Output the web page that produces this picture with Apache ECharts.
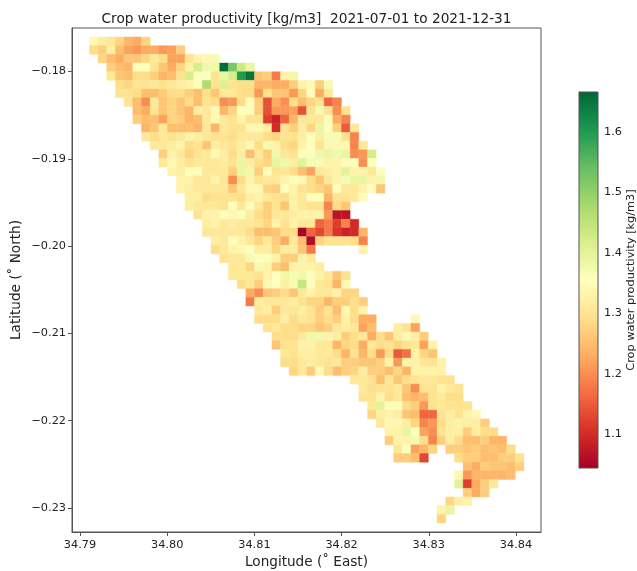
<!DOCTYPE html>
<html><head><meta charset="utf-8">
<style>html,body{margin:0;padding:0;background:#fff}#c{width:637px;height:571px}</style>
<script src="https://cdn.jsdelivr.net/npm/echarts@6/dist/echarts.min.js"></script>
</head><body><div id="c"></div>
<script>
const titleText = 'Crop water productivity [kg/m3]  2021-07-01 to 2021-12-31';
const xName = 'Longitude (˚ East)';
const yName = 'Latitude (˚ North)';
const barName = 'Crop water productivity [kg/m3]';
const xTicks = [34.79, 34.80, 34.81, 34.82, 34.83, 34.84];
const yTicks = [-0.18, -0.19, -0.20, -0.21, -0.22, -0.23];
const barTicks = [1.1, 1.2, 1.3, 1.4, 1.5, 1.6];
const valueRange = [1.044, 1.666];
const palette = ['#a50026','#d73027','#f46d43','#fdae61','#fee08b','#ffffbf','#d9ef8b','#a6d96a','#66bd63','#1a9850','#006837'];
const lonWest = 34.79107, latNorth = -0.17605, lonStep = 0.000997, latStep = 0.000994;
const rowStart = [0,0,1,2,2,3,3,4,5,5,6,6,7,8,8,9,10,10,11,11,12,13,13,14,14,15,16,16,17,18,18,19,19,20,21,21,22,22,23,30,31,31,32,32,33,34,34,35,35,43,42,42,43,41,40,40];
const rowValues = [
[1.34,1.32,1.31,1.28,1.24,1.23,1.28],
[1.29,1.27,1.32,1.25,1.22,1.21,1.23,1.23,1.21,1.22,1.27],
[1.28,1.25,1.23,1.26,1.26,1.28,1.31,1.29,1.22,1.22,1.30,1.33,1.34,1.37],
[1.27,1.25,1.24,1.35,1.35,1.30,1.26,1.23,1.28,1.33,1.42,1.38,1.38,1.66,1.52,1.43,1.39],
[1.31,1.26,1.25,1.29,1.29,1.27,1.24,1.25,1.30,1.42,1.36,1.36,1.30,1.39,1.42,1.60,1.65,1.26,1.27,1.18,1.33,1.38],
[1.29,1.28,1.30,1.30,1.31,1.30,1.31,1.32,1.33,1.35,1.47,1.30,1.41,1.30,1.29,1.29,1.24,1.24,1.23,1.23,1.27,1.33,1.34,1.27,1.37],
[1.30,1.30,1.29,1.25,1.25,1.27,1.29,1.29,1.27,1.25,1.29,1.26,1.31,1.31,1.29,1.29,1.21,1.30,1.26,1.26,1.21,1.28,1.35,1.23,1.31],
[1.30,1.25,1.20,1.31,1.26,1.28,1.26,1.29,1.25,1.30,1.29,1.20,1.21,1.29,1.35,1.27,1.14,1.23,1.20,1.29,1.25,1.28,1.30,1.16,1.19],
[1.25,1.23,1.30,1.26,1.28,1.26,1.24,1.32,1.31,1.34,1.24,1.28,1.35,1.35,1.27,1.14,1.21,1.21,1.22,1.14,1.30,1.37,1.30,1.20,1.30],
[1.27,1.25,1.25,1.22,1.28,1.27,1.24,1.25,1.31,1.34,1.31,1.30,1.33,1.30,1.30,1.12,1.09,1.16,1.24,1.31,1.31,1.31,1.36,1.23,1.19],
[1.24,1.26,1.31,1.25,1.25,1.25,1.24,1.31,1.24,1.31,1.30,1.30,1.34,1.34,1.32,1.10,1.30,1.27,1.32,1.28,1.39,1.35,1.27,1.15,1.31],
[1.31,1.29,1.31,1.30,1.31,1.33,1.32,1.31,1.30,1.30,1.29,1.31,1.31,1.31,1.29,1.28,1.30,1.30,1.32,1.35,1.32,1.37,1.37,1.30,1.19],
[1.31,1.31,1.32,1.33,1.29,1.30,1.26,1.32,1.31,1.30,1.32,1.34,1.29,1.37,1.33,1.29,1.28,1.33,1.36,1.30,1.34,1.34,1.34,1.19,1.31],
[1.27,1.33,1.31,1.28,1.30,1.31,1.34,1.32,1.29,1.32,1.25,1.31,1.27,1.38,1.31,1.30,1.36,1.36,1.38,1.39,1.38,1.39,1.20,1.21,1.42],
[1.31,1.34,1.32,1.30,1.31,1.31,1.31,1.32,1.30,1.39,1.32,1.29,1.28,1.39,1.38,1.32,1.40,1.37,1.37,1.33,1.33,1.35,1.35,1.20,1.36],
[1.33,1.32,1.35,1.35,1.31,1.31,1.31,1.27,1.39,1.38,1.27,1.36,1.30,1.31,1.29,1.25,1.22,1.31,1.32,1.33,1.40,1.33,1.33,1.31,1.36],
[1.33,1.33,1.31,1.31,1.33,1.31,1.20,1.29,1.33,1.30,1.31,1.31,1.33,1.36,1.34,1.29,1.26,1.31,1.33,1.37,1.39,1.39,1.33,1.38],
[1.33,1.32,1.31,1.31,1.31,1.31,1.26,1.31,1.34,1.34,1.28,1.27,1.35,1.33,1.30,1.29,1.28,1.26,1.35,1.31,1.31,1.33,1.35,1.26],
[1.32,1.32,1.29,1.30,1.30,1.30,1.29,1.32,1.33,1.31,1.30,1.29,1.33,1.31,1.35,1.36,1.24,1.30,1.30,1.31,1.35],
[1.32,1.31,1.31,1.31,1.30,1.35,1.31,1.35,1.31,1.27,1.30,1.26,1.33,1.31,1.30,1.30,1.19,1.29,1.26],
[1.30,1.33,1.33,1.36,1.34,1.36,1.32,1.29,1.27,1.31,1.31,1.32,1.33,1.33,1.33,1.21,1.07,1.07],
[1.32,1.33,1.31,1.32,1.31,1.31,1.30,1.28,1.33,1.30,1.33,1.31,1.31,1.16,1.18,1.12,1.19,1.10],
[1.31,1.31,1.31,1.31,1.31,1.29,1.25,1.25,1.26,1.29,1.29,1.05,1.16,1.13,1.18,1.11,1.09,1.10,1.24],
[1.32,1.31,1.35,1.33,1.31,1.28,1.31,1.27,1.23,1.31,1.25,1.06,1.28,1.30,1.30,1.30,1.29,1.19],
[1.29,1.31,1.33,1.34,1.35,1.32,1.32,1.28,1.32,1.32,1.26,1.18,null,null,null,null,null,1.33],
[1.30,1.31,1.31,1.37,1.36,1.36,1.33,1.27,1.27,1.33,1.31],
[1.31,1.31,1.28,1.37,1.33,1.27,1.25,1.33,1.33,1.33,1.32],
[1.31,1.31,1.31,1.30,1.33,1.35,1.38,1.37,1.38,1.36,1.33,1.31,1.26,1.30],
[1.29,1.31,1.27,1.34,1.36,1.32,1.37,1.44,1.36,1.31,1.30,1.24,1.34],
[1.23,1.20,1.26,1.27,1.29,1.26,1.31,1.33,1.31,1.31,1.33,1.28,1.28],
[1.18,1.32,1.31,1.31,1.31,1.32,1.30,1.28,1.28,1.24,1.27,1.27,1.29,1.27],
[1.31,1.32,1.27,1.31,1.31,1.32,1.30,1.27,1.30,1.25,1.34,1.29,1.33],
[1.29,1.29,1.29,1.32,1.29,1.31,1.30,1.27,1.29,1.27,1.33,1.29,1.23,1.23,null,null,null,null,1.34],
[1.30,1.31,1.29,1.29,1.28,1.28,1.26,1.27,1.31,1.32,1.31,1.22,1.25,null,null,1.32,1.30,1.22],
[1.29,1.29,1.29,1.31,1.38,1.38,1.33,1.32,1.27,1.29,1.31,1.23,1.29,1.26,1.32,1.34,1.32,1.27],
[1.26,1.30,1.30,1.33,1.33,1.31,1.31,1.24,1.28,1.29,1.23,1.31,1.29,1.30,1.28,1.30,1.31,1.22,1.33],
[1.31,1.30,1.32,1.32,1.31,1.31,1.29,1.24,1.30,1.24,1.29,1.21,1.29,1.15,1.17,1.33,1.28,1.26],
[1.29,1.29,1.31,1.32,1.31,1.30,1.31,1.27,1.27,1.26,1.26,1.27,1.33,1.21,1.33,1.33,1.31,1.30,1.33],
[1.28,1.31,1.27,1.34,1.29,1.25,1.27,1.28,1.32,1.27,1.27,1.25,1.28,1.24,1.33,1.33,1.33,1.33],
[1.31,1.31,1.30,1.25,1.31,1.26,1.29,1.30,1.31,1.31,1.30,1.30],
[1.31,1.29,1.30,1.30,1.31,1.26,1.20,1.30,1.30,1.33,1.31,1.30],
[1.30,1.30,1.33,1.29,1.31,1.25,1.24,1.25,1.30,1.31,1.29,1.29],
[1.31,1.40,1.36,1.35,1.29,1.27,1.21,1.30,1.31,1.30,1.30,1.30],
[1.28,1.32,1.33,1.32,1.26,1.25,1.16,1.16,1.30,1.32,1.30,1.33,1.34],
[1.31,1.34,1.34,1.32,1.28,1.19,1.21,1.29,1.32,1.33,1.32,1.32,1.27],
[1.33,1.33,1.39,1.36,1.22,1.20,1.30,1.32,1.32,1.27,1.32,1.29,1.29],
[1.27,1.33,1.33,1.37,1.29,1.19,1.27,1.32,1.29,1.25,1.25,1.27,1.24,1.24],
[1.31,1.36,1.22,1.24,1.28,null,1.27,1.27,1.26,1.27,1.25,1.26,1.25,1.29],
[1.27,1.27,1.25,1.13,null,null,null,1.29,1.27,1.27,1.25,1.25,1.27,1.27,1.30],
[1.25,1.23,1.27,1.26,1.26,1.25,1.27],
[1.34,1.21,1.24,1.24,1.24,1.24,1.25],
[1.40,1.12,1.23,1.27,1.31],
[1.27,1.23,1.27],
[1.28,1.32,1.33],
[1.33,1.39],
[1.28]
];
const cells = [];
rowValues.forEach((vals, r) => vals.forEach((v, i) => {
  if (v !== null) cells.push([lonWest + (rowStart[r] + i + 0.5) * lonStep, latNorth - (r + 0.5) * latStep, v]);
}));
const ink = '#222', frame = '#555';
const font = 'DejaVu Sans';
const fmt2 = v => v.toFixed(2).replace('-', '\u2212');
function tickAxis(type, name, ticks, extra) {
  return Object.assign({
    type: 'value', name, nameLocation: 'middle', nameMoveOverlap: false,
    nameTextStyle: {color: ink, fontFamily: font, fontSize: 13.6},
    axisLine: {show: true, lineStyle: {color: frame, width: 1}},
    axisTick: {show: true, length: 4, inside: false, customValues: ticks, lineStyle: {color: frame, width: 1}},
    axisLabel: {show: true, color: ink, fontFamily: font, fontSize: 11.3, margin: type === 'x' ? 8 : 6, customValues: ticks, formatter: fmt2, hideOverlap: false, showMinLabel: true, showMaxLabel: true},
    splitLine: {show: false}
  }, extra);
}
const chart = echarts.init(document.getElementById('c'), null, {renderer: 'canvas'});
chart.setOption({
  animation: false,
  backgroundColor: '#fff',
  title: {text: titleText, left: 301.5, top: 7, textAlign: 'center', textStyle: {color: ink, fontFamily: font, fontSize: 13.7, fontWeight: 'normal'}},
  grid: [
    {left: 72, top: 28, width: 469, height: 504, show: true, borderColor: frame, borderWidth: 1, backgroundColor: '#fff', outerBoundsMode: 'none'},
    {left: 579, top: 92, width: 19, height: 376, show: false, outerBoundsMode: 'none'}
  ],
  xAxis: [
    tickAxis('x', xName, xTicks, {gridIndex: 0, min: 34.78908, max: 34.84287, nameGap: 23}),
    {type: 'value', gridIndex: 1, min: 0, max: 1, show: false}
  ],
  yAxis: [
    tickAxis('y', yName, yTicks, {gridIndex: 0, min: -0.23275, max: -0.17502, nameGap: 49, nameRotate: 90}),
    tickAxis('y', barName, barTicks, {gridIndex: 1, position: 'right', min: valueRange[0], max: valueRange[1], nameGap: 28, nameRotate: 90,
      nameTextStyle: {color: ink, fontFamily: font, fontSize: 11.3},
      axisLabel: {show: true, color: ink, fontFamily: font, fontSize: 11.3, margin: 6, customValues: barTicks, formatter: v => v.toFixed(1)}})
  ],
  visualMap: [{type: 'continuous', show: false, seriesIndex: 0, dimension: 2, min: valueRange[0], max: valueRange[1], inRange: {color: palette}}],
  series: [
    {type: 'custom', xAxisIndex: 0, yAxisIndex: 0, coordinateSystem: 'cartesian2d', data: cells, encode: {x: 0, y: 1},
     renderItem(params, api) {
       const lon = api.value(0), lat = api.value(1);
       const a = api.coord([lon - lonStep / 2, lat + latStep / 2]);
       const b = api.coord([lon + lonStep / 2, lat - latStep / 2]);
       const color = api.visual('color');
       return {type: 'rect', shape: {x: a[0], y: a[1], width: b[0] - a[0], height: b[1] - a[1]}, style: {fill: color, stroke: color, lineWidth: 0.4}};
     }},
    {type: 'custom', xAxisIndex: 1, yAxisIndex: 1, coordinateSystem: 'cartesian2d', silent: true, data: [[0, valueRange[1], 1, valueRange[0]]], encode: {x: 0, y: 1},
     renderItem(params, api) {
       const a = api.coord([0, valueRange[1]]);
       const b = api.coord([1, valueRange[0]]);
       return {type: 'rect', shape: {x: a[0], y: a[1], width: b[0] - a[0], height: b[1] - a[1]},
         style: {stroke: frame, lineWidth: 1, fill: new echarts.graphic.LinearGradient(0, 1, 0, 0, palette.map((c, i) => ({offset: i / (palette.length - 1), color: c})))}};
     }}
  ]
});
</script></body></html>
